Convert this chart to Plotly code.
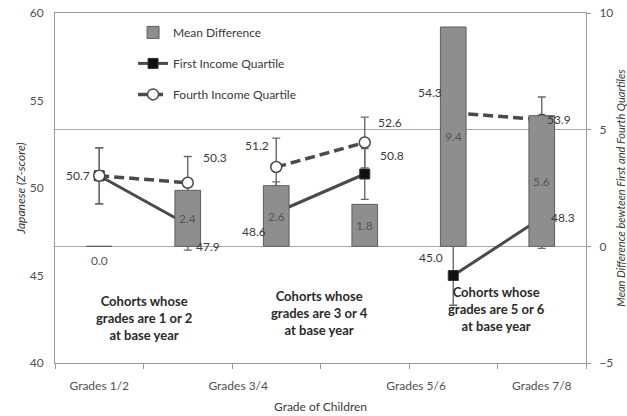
import plotly.graph_objects as go

# Survey waves: two consecutive waves per cohort, three cohorts
waves = [1, 2, 3, 4, 5, 6]
grade_labels = ["Grades 1/2", "Grades 3/4", "Grades 5/6", "Grades 7/8"]
cohort_notes = [
    "Cohorts whose<br>grades are 1 or 2<br>at base year",
    "Cohorts whose<br>grades are 3 or 4<br>at base year",
    "Cohorts whose<br>grades are 5 or 6<br>at base year",
]

# Japanese Z-scores by income quartile, with error-bar half-widths
first_quartile = [50.7, 47.9, 48.6, 50.8, 45.0, 48.3]
first_err = [1.6, 1.45, 1.75, 1.45, 1.7, 1.75]
fourth_quartile = [50.7, 50.3, 51.2, 52.6, 54.3, 53.9]
fourth_err = [1.6, 1.5, 1.65, 1.45, 1.1, 1.3]

# Mean difference between first and fourth quartiles (right axis)
mean_difference = [0.0, 2.4, 2.6, 1.8, 9.4, 5.6]

FONT = "Lato"
TEXT = "#3a3a3a"
TICK = "#505050"
AXIS = "#9a9a9a"
LINE = "#4a4a4a"
ERR = "#6a6a6a"

fig = go.Figure()

# Bars on the secondary axis
fig.add_trace(go.Bar(
    x=waves, y=mean_difference, yaxis="y2", width=0.29,
    marker=dict(color="#8e8e8e", line=dict(color="#5e5e5e", width=1)),
    name="Mean Difference", legendgroup="md", showlegend=True,
    hoverinfo="skip",
))

# One segment per cohort for each quartile line
for c in range(3):
    sl = slice(2 * c, 2 * c + 2)
    fig.add_trace(go.Scatter(
        x=waves[sl], y=first_quartile[sl], mode="lines+markers",
        line=dict(color=LINE, width=3),
        marker=dict(symbol="square", size=10, color="#111111",
                    line=dict(color="#333333", width=1)),
        error_y=dict(type="data", array=first_err[sl], color=ERR,
                     thickness=1.4, width=4),
        name="First Income Quartile", legendgroup="q1",
        showlegend=(c == 0), hoverinfo="skip",
    ))
for c in range(3):
    sl = slice(2 * c, 2 * c + 2)
    fig.add_trace(go.Scatter(
        x=waves[sl], y=fourth_quartile[sl], mode="lines+markers",
        line=dict(color=LINE, width=3.5, dash="10px,5px"),
        marker=dict(symbol="circle", size=11, color="white",
                    line=dict(color="#4a4a4a", width=1.5)),
        error_y=dict(type="data", array=fourth_err[sl], color=ERR,
                     thickness=1.4, width=4),
        name="Fourth Income Quartile", legendgroup="q4",
        showlegend=(c == 0), hoverinfo="skip",
    ))

annotations = []

# Bar value labels, centred in each bar (below the axis when zero)
for x, v in zip(waves, mean_difference):
    annotations.append(dict(x=x, y=v / 2, xref="x", yref="y2", text=f"{v:.1f}",
                            showarrow=False, yshift=-14 if v == 0 else 0,
                            font=dict(family=FONT, size=12, color="#555555")))

# Point value labels (pixel offsets from each marker)
fourth_offsets = [(-21, 0), (27, -25), (-19, -22), (25, -20), (-23, -20), (17, 0)]
first_offsets = [None, (20, 22), (-22, 19), (27, -19), (-22, -18), (21, 0)]
for x, v, off in zip(waves, fourth_quartile, fourth_offsets):
    annotations.append(dict(x=x, y=v, xref="x", yref="y", text=f"{v:.1f}",
                            showarrow=False, xshift=off[0], yshift=-off[1],
                            font=dict(family=FONT, size=12, color=TEXT)))
for x, v, off in zip(waves, first_quartile, first_offsets):
    if off is None:
        continue
    annotations.append(dict(x=x, y=v, xref="x", yref="y", text=f"{v:.1f}",
                            showarrow=False, xshift=off[0], yshift=-off[1],
                            font=dict(family=FONT, size=12, color=TEXT)))

# Cohort notes under each pair of waves
note_pos = [(1.5, 42.57), (3.49, 42.86), (5.49, 43.09)]
for (nx, ny), note in zip(note_pos, cohort_notes):
    annotations.append(dict(x=nx, y=ny, xref="x", yref="y", text=note,
                            showarrow=False, align="center",
                            font=dict(family=FONT, size=13, color="#2a2a2a",
                                      weight="bold")))

fig.update_layout(
    width=627, height=416,
    margin=dict(l=55, r=41, t=13, b=53, autoexpand=False),
    paper_bgcolor="white", plot_bgcolor="white",
    font=dict(family=FONT, color=TEXT),
    barmode="overlay",
    showlegend=True,
    legend=dict(x=0.147, y=0.986, xanchor="left", yanchor="top",
                bgcolor="rgba(0,0,0,0)", traceorder="grouped",
                tracegroupgap=12,
                font=dict(family=FONT, size=12, color=TEXT)),
    xaxis=dict(
        range=[0.5, 6.5], tickmode="array",
        tickvals=[1, 2.57, 4.58, 6], ticktext=grade_labels,
        ticks="outside", ticklen=12, tickcolor="rgba(0,0,0,0)",
        tickfont=dict(family=FONT, size=12, color=TICK),
        minor=dict(tickmode="array", tickvals=[0.5, 1.5, 2.5, 3.5, 4.5, 5.5, 6.5],
                   ticks="outside", ticklen=5, tickcolor=AXIS, showgrid=False),
        showline=True, linecolor=AXIS, linewidth=1, mirror=True,
        showgrid=False, zeroline=False,
        title=dict(text="Grade of Children", standoff=10,
                   font=dict(family=FONT, size=12, color=TEXT)),
    ),
    yaxis=dict(
        range=[40, 60], tickvals=[40, 45, 50, 55, 60],
        ticks="outside", ticklen=8, tickcolor="rgba(0,0,0,0)",
        tickfont=dict(family=FONT, size=12, color=TICK),
        showline=True, linecolor=AXIS, linewidth=1,
        showgrid=False, zeroline=False,
        title=dict(text="<i>Japanese (Z-score)</i>", standoff=1,
                   font=dict(family=FONT, size=12, color=TEXT)),
    ),
    yaxis2=dict(
        overlaying="y", side="right", range=[-5, 10],
        tickvals=[-5, 0, 5, 10],
        ticks="outside", ticklen=4, tickcolor=AXIS, ticklabelstandoff=6,
        tickfont=dict(family=FONT, size=12, color=TICK),
        showline=True, linecolor=AXIS, linewidth=1,
        showgrid=True, gridcolor="#a8a8a8", gridwidth=1, zeroline=False,
        title=dict(text="<i>Mean Difference bewteen First and Fourth Quartiles</i>",
                   standoff=10, font=dict(family=FONT, size=11, color=TEXT)),
    ),
    annotations=annotations,
)

fig.write_html("out.html")
